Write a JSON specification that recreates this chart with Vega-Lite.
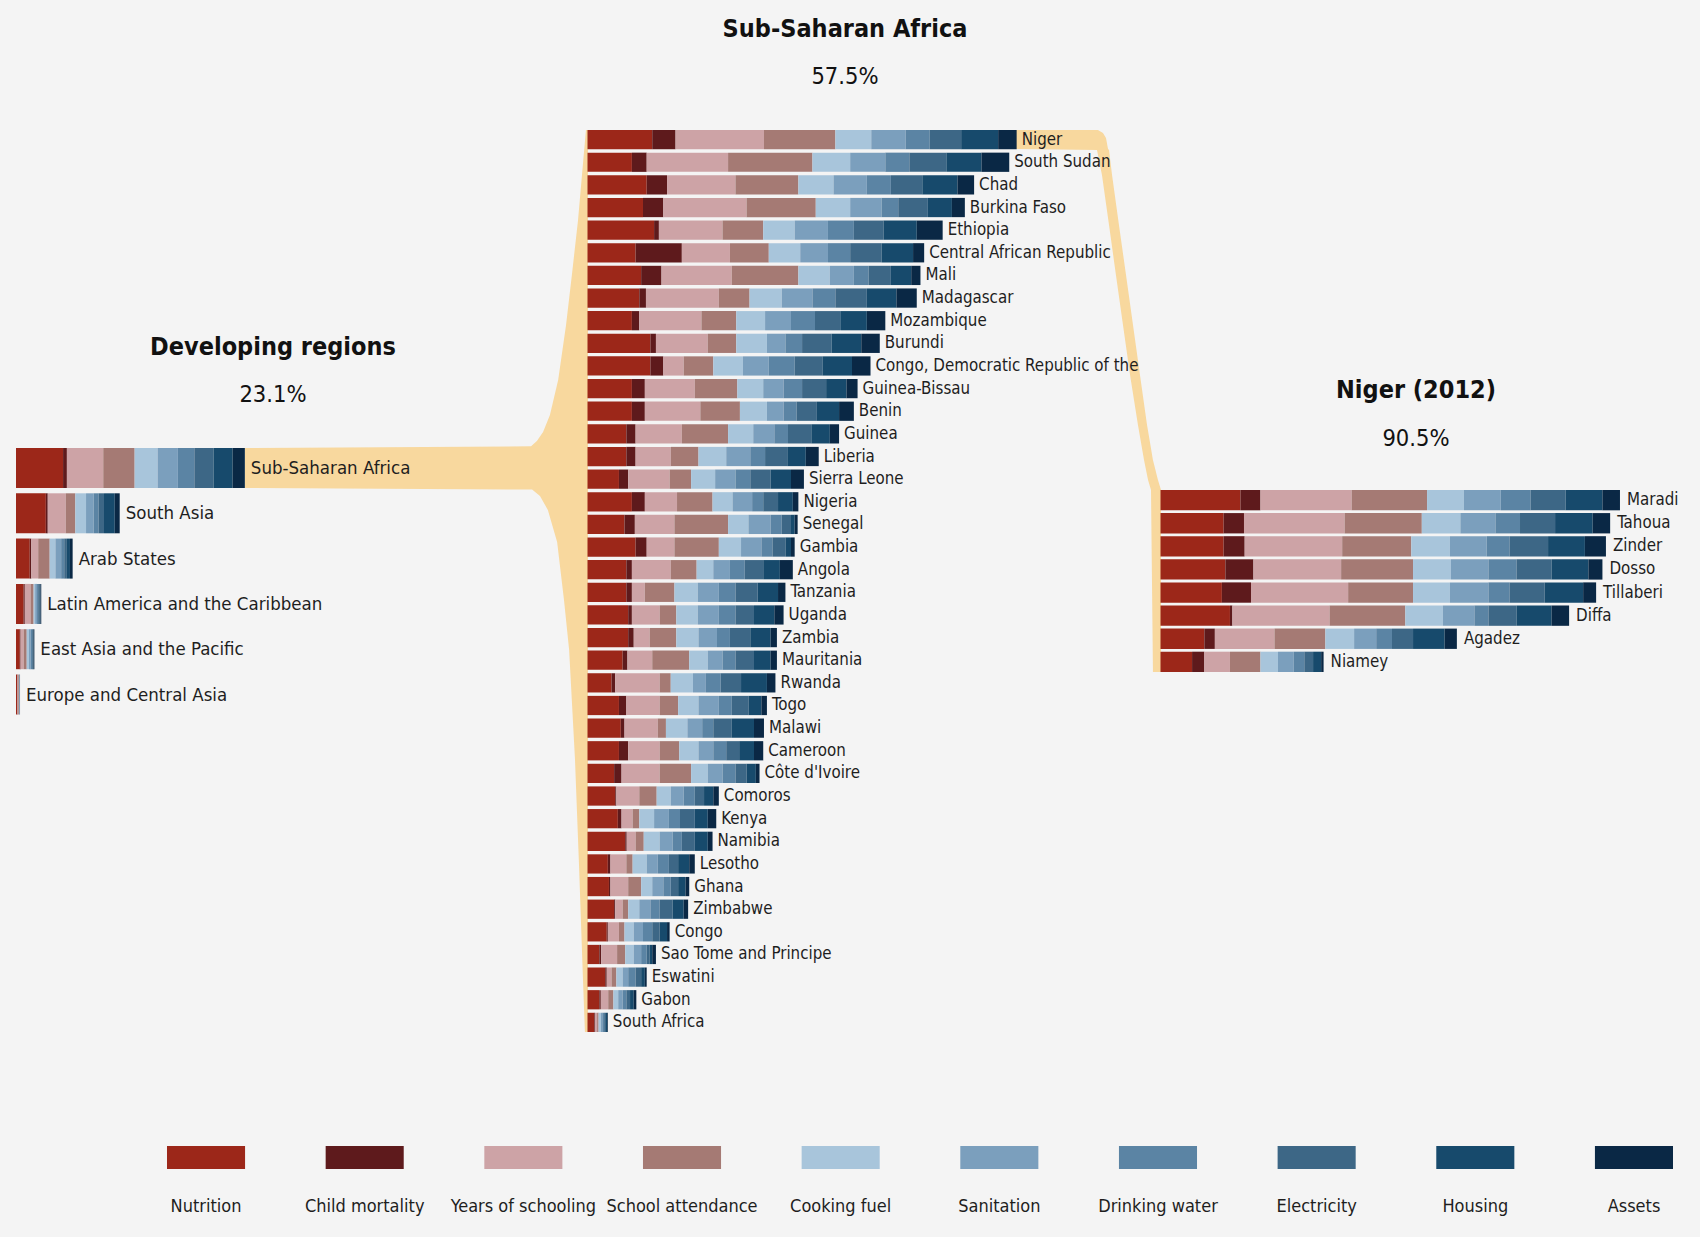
{
  "$schema": "https://vega.github.io/schema/vega-lite/v6.json",
  "width": 1700,
  "height": 1237,
  "padding": 0,
  "autosize": {"type": "none"},
  "background": "#f4f4f4",
  "config": {"view": {"stroke": null}, "font": "Liberation Sans Narrow, DejaVu Sans Condensed, sans-serif"},
  "datasets": {
    "mpi": [
      {"panel": "Developing regions", "area": "Sub-Saharan Africa", "Nutrition": 12.3, "Child mortality": 1.0, "Years of schooling": 9.5, "School attendance": 8.2, "Cooking fuel": 6.0, "Sanitation": 5.3, "Drinking water": 4.3, "Electricity": 5.0, "Housing": 5.0, "Assets": 3.2},
      {"panel": "Developing regions", "area": "South Asia", "Nutrition": 7.8, "Child mortality": 0.5, "Years of schooling": 4.7, "School attendance": 2.5, "Cooking fuel": 2.8, "Sanitation": 2.0, "Drinking water": 1.3, "Electricity": 1.4, "Housing": 2.8, "Assets": 1.3},
      {"panel": "Developing regions", "area": "Arab States", "Nutrition": 3.6, "Child mortality": 0.4, "Years of schooling": 1.8, "School attendance": 3.0, "Cooking fuel": 1.5, "Sanitation": 1.5, "Drinking water": 0.8, "Electricity": 0.7, "Housing": 0.8, "Assets": 0.7},
      {"panel": "Developing regions", "area": "Latin America and the Caribbean", "Nutrition": 2.0, "Child mortality": 0.3, "Years of schooling": 1.5, "School attendance": 0.8, "Cooking fuel": 0.4, "Sanitation": 0.5, "Drinking water": 0.3, "Electricity": 0.3, "Housing": 0.3, "Assets": 0.2},
      {"panel": "Developing regions", "area": "East Asia and the Pacific", "Nutrition": 1.0, "Child mortality": 0.2, "Years of schooling": 0.8, "School attendance": 0.8, "Cooking fuel": 0.6, "Sanitation": 0.4, "Drinking water": 0.4, "Electricity": 0.2, "Housing": 0.2, "Assets": 0.2},
      {"panel": "Developing regions", "area": "Europe and Central Asia", "Nutrition": 0.3, "Child mortality": 0.1, "Years of schooling": 0.2, "School attendance": 0.2, "Cooking fuel": 0.05, "Sanitation": 0.05, "Drinking water": 0.05, "Electricity": 0.05, "Housing": 0.03, "Assets": 0.02},

      {"panel": "Sub-Saharan Africa", "area": "Niger", "Nutrition": 17.5, "Child mortality": 6.3, "Years of schooling": 23.9, "School attendance": 19.3, "Cooking fuel": 9.7, "Sanitation": 9.3, "Drinking water": 6.5, "Electricity": 8.5, "Housing": 10.0, "Assets": 5.0},
      {"panel": "Sub-Saharan Africa", "area": "South Sudan", "Nutrition": 12.0, "Child mortality": 4.0, "Years of schooling": 22.0, "School attendance": 22.8, "Cooking fuel": 10.2, "Sanitation": 9.5, "Drinking water": 6.5, "Electricity": 10.0, "Housing": 9.5, "Assets": 7.5},
      {"panel": "Sub-Saharan Africa", "area": "Chad", "Nutrition": 16.0, "Child mortality": 5.5, "Years of schooling": 18.5, "School attendance": 17.0, "Cooking fuel": 9.5, "Sanitation": 9.0, "Drinking water": 6.5, "Electricity": 8.5, "Housing": 9.5, "Assets": 4.5},
      {"panel": "Sub-Saharan Africa", "area": "Burkina Faso", "Nutrition": 15.0, "Child mortality": 5.5, "Years of schooling": 22.5, "School attendance": 18.7, "Cooking fuel": 9.3, "Sanitation": 8.5, "Drinking water": 4.5, "Electricity": 8.0, "Housing": 6.5, "Assets": 3.5},
      {"panel": "Sub-Saharan Africa", "area": "Ethiopia", "Nutrition": 18.0, "Child mortality": 1.3, "Years of schooling": 17.2, "School attendance": 11.0, "Cooking fuel": 8.5, "Sanitation": 9.0, "Drinking water": 7.0, "Electricity": 8.0, "Housing": 9.0, "Assets": 7.0},
      {"panel": "Sub-Saharan Africa", "area": "Central African Republic", "Nutrition": 13.0, "Child mortality": 12.5, "Years of schooling": 13.0, "School attendance": 10.5, "Cooking fuel": 8.5, "Sanitation": 7.5, "Drinking water": 6.0, "Electricity": 8.5, "Housing": 8.5, "Assets": 3.0},
      {"panel": "Sub-Saharan Africa", "area": "Mali", "Nutrition": 14.5, "Child mortality": 5.5, "Years of schooling": 19.0, "School attendance": 18.0, "Cooking fuel": 8.5, "Sanitation": 6.5, "Drinking water": 4.0, "Electricity": 6.0, "Housing": 5.5, "Assets": 2.5},
      {"panel": "Sub-Saharan Africa", "area": "Madagascar", "Nutrition": 14.0, "Child mortality": 1.8, "Years of schooling": 19.7, "School attendance": 8.3, "Cooking fuel": 8.7, "Sanitation": 8.3, "Drinking water": 6.2, "Electricity": 8.5, "Housing": 8.0, "Assets": 5.5},
      {"panel": "Sub-Saharan Africa", "area": "Mozambique", "Nutrition": 12.0, "Child mortality": 2.0, "Years of schooling": 16.8, "School attendance": 9.4, "Cooking fuel": 7.8, "Sanitation": 7.0, "Drinking water": 6.5, "Electricity": 7.0, "Housing": 7.0, "Assets": 5.0},
      {"panel": "Sub-Saharan Africa", "area": "Burundi", "Nutrition": 17.0, "Child mortality": 1.5, "Years of schooling": 14.0, "School attendance": 7.7, "Cooking fuel": 8.3, "Sanitation": 5.0, "Drinking water": 4.5, "Electricity": 8.0, "Housing": 8.0, "Assets": 5.0},
      {"panel": "Sub-Saharan Africa", "area": "Congo, Democratic Republic of the", "Nutrition": 17.0, "Child mortality": 3.5, "Years of schooling": 5.5, "School attendance": 8.0, "Cooking fuel": 8.0, "Sanitation": 7.0, "Drinking water": 7.0, "Electricity": 7.5, "Housing": 8.0, "Assets": 5.0},
      {"panel": "Sub-Saharan Africa", "area": "Guinea-Bissau", "Nutrition": 12.0, "Child mortality": 3.5, "Years of schooling": 13.5, "School attendance": 11.5, "Cooking fuel": 7.0, "Sanitation": 5.5, "Drinking water": 5.0, "Electricity": 6.5, "Housing": 5.5, "Assets": 3.0},
      {"panel": "Sub-Saharan Africa", "area": "Benin", "Nutrition": 12.0, "Child mortality": 3.5, "Years of schooling": 15.0, "School attendance": 10.7, "Cooking fuel": 7.3, "Sanitation": 4.5, "Drinking water": 3.5, "Electricity": 5.5, "Housing": 6.0, "Assets": 4.0},
      {"panel": "Sub-Saharan Africa", "area": "Guinea", "Nutrition": 10.5, "Child mortality": 2.5, "Years of schooling": 12.5, "School attendance": 12.5, "Cooking fuel": 6.8, "Sanitation": 5.7, "Drinking water": 3.7, "Electricity": 6.3, "Housing": 5.0, "Assets": 2.5},
      {"panel": "Sub-Saharan Africa", "area": "Liberia", "Nutrition": 10.5, "Child mortality": 2.5, "Years of schooling": 9.5, "School attendance": 7.5, "Cooking fuel": 7.5, "Sanitation": 6.5, "Drinking water": 4.0, "Electricity": 6.0, "Housing": 5.0, "Assets": 3.5},
      {"panel": "Sub-Saharan Africa", "area": "Sierra Leone", "Nutrition": 8.5, "Child mortality": 2.5, "Years of schooling": 11.2, "School attendance": 5.8, "Cooking fuel": 6.5, "Sanitation": 5.5, "Drinking water": 4.0, "Electricity": 5.5, "Housing": 5.5, "Assets": 3.5},
      {"panel": "Sub-Saharan Africa", "area": "Nigeria", "Nutrition": 12.0, "Child mortality": 3.5, "Years of schooling": 8.7, "School attendance": 9.6, "Cooking fuel": 5.4, "Sanitation": 5.3, "Drinking water": 3.0, "Electricity": 4.0, "Housing": 4.0, "Assets": 1.5},
      {"panel": "Sub-Saharan Africa", "area": "Senegal", "Nutrition": 10.0, "Child mortality": 2.8, "Years of schooling": 10.7, "School attendance": 14.5, "Cooking fuel": 5.5, "Sanitation": 6.0, "Drinking water": 3.0, "Electricity": 2.5, "Housing": 1.0, "Assets": 0.8},
      {"panel": "Sub-Saharan Africa", "area": "Gambia", "Nutrition": 13.0, "Child mortality": 3.0, "Years of schooling": 7.5, "School attendance": 12.0, "Cooking fuel": 6.0, "Sanitation": 5.5, "Drinking water": 3.0, "Electricity": 3.5, "Housing": 1.5, "Assets": 1.0},
      {"panel": "Sub-Saharan Africa", "area": "Angola", "Nutrition": 10.5, "Child mortality": 1.5, "Years of schooling": 10.5, "School attendance": 7.0, "Cooking fuel": 4.5, "Sanitation": 4.5, "Drinking water": 4.0, "Electricity": 5.0, "Housing": 4.5, "Assets": 3.5},
      {"panel": "Sub-Saharan Africa", "area": "Tanzania", "Nutrition": 10.5, "Child mortality": 1.5, "Years of schooling": 3.5, "School attendance": 8.0, "Cooking fuel": 6.3, "Sanitation": 5.7, "Drinking water": 4.5, "Electricity": 6.0, "Housing": 5.5, "Assets": 2.0},
      {"panel": "Sub-Saharan Africa", "area": "Uganda", "Nutrition": 11.0, "Child mortality": 1.0, "Years of schooling": 7.5, "School attendance": 4.5, "Cooking fuel": 5.8, "Sanitation": 5.7, "Drinking water": 4.5, "Electricity": 5.0, "Housing": 5.5, "Assets": 2.5},
      {"panel": "Sub-Saharan Africa", "area": "Zambia", "Nutrition": 11.0, "Child mortality": 1.5, "Years of schooling": 4.3, "School attendance": 7.2, "Cooking fuel": 6.0, "Sanitation": 5.0, "Drinking water": 3.5, "Electricity": 5.5, "Housing": 5.5, "Assets": 1.7},
      {"panel": "Sub-Saharan Africa", "area": "Mauritania", "Nutrition": 9.5, "Child mortality": 1.3, "Years of schooling": 6.7, "School attendance": 10.0, "Cooking fuel": 5.0, "Sanitation": 4.0, "Drinking water": 3.5, "Electricity": 5.0, "Housing": 4.5, "Assets": 1.7},
      {"panel": "Sub-Saharan Africa", "area": "Rwanda", "Nutrition": 6.5, "Child mortality": 1.0, "Years of schooling": 12.0, "School attendance": 3.0, "Cooking fuel": 6.0, "Sanitation": 3.5, "Drinking water": 4.0, "Electricity": 5.5, "Housing": 7.0, "Assets": 2.3},
      {"panel": "Sub-Saharan Africa", "area": "Togo", "Nutrition": 8.5, "Child mortality": 2.0, "Years of schooling": 9.0, "School attendance": 5.0, "Cooking fuel": 5.5, "Sanitation": 5.5, "Drinking water": 3.5, "Electricity": 4.5, "Housing": 3.5, "Assets": 1.5},
      {"panel": "Sub-Saharan Africa", "area": "Malawi", "Nutrition": 9.0, "Child mortality": 1.0, "Years of schooling": 9.0, "School attendance": 2.2, "Cooking fuel": 5.8, "Sanitation": 4.0, "Drinking water": 3.0, "Electricity": 5.0, "Housing": 6.0, "Assets": 2.7},
      {"panel": "Sub-Saharan Africa", "area": "Cameroon", "Nutrition": 8.5, "Child mortality": 2.5, "Years of schooling": 8.5, "School attendance": 5.3, "Cooking fuel": 5.2, "Sanitation": 4.0, "Drinking water": 3.5, "Electricity": 3.5, "Housing": 4.0, "Assets": 2.5},
      {"panel": "Sub-Saharan Africa", "area": "Côte d'Ivoire", "Nutrition": 7.2, "Child mortality": 2.0, "Years of schooling": 10.3, "School attendance": 8.5, "Cooking fuel": 4.5, "Sanitation": 4.0, "Drinking water": 3.5, "Electricity": 3.0, "Housing": 2.5, "Assets": 1.0},
      {"panel": "Sub-Saharan Africa", "area": "Comoros", "Nutrition": 7.5, "Child mortality": 0.3, "Years of schooling": 6.2, "School attendance": 4.7, "Cooking fuel": 3.8, "Sanitation": 3.5, "Drinking water": 3.0, "Electricity": 2.5, "Housing": 2.5, "Assets": 1.5},
      {"panel": "Sub-Saharan Africa", "area": "Kenya", "Nutrition": 8.2, "Child mortality": 1.0, "Years of schooling": 3.0, "School attendance": 1.8, "Cooking fuel": 4.0, "Sanitation": 4.0, "Drinking water": 3.0, "Electricity": 4.0, "Housing": 3.5, "Assets": 2.3},
      {"panel": "Sub-Saharan Africa", "area": "Namibia", "Nutrition": 10.2, "Child mortality": 0.4, "Years of schooling": 2.4, "School attendance": 2.2, "Cooking fuel": 4.3, "Sanitation": 3.5, "Drinking water": 2.5, "Electricity": 3.5, "Housing": 3.5, "Assets": 1.3},
      {"panel": "Sub-Saharan Africa", "area": "Lesotho", "Nutrition": 5.5, "Child mortality": 0.7, "Years of schooling": 4.3, "School attendance": 1.7, "Cooking fuel": 3.8, "Sanitation": 3.0, "Drinking water": 3.0, "Electricity": 2.5, "Housing": 3.0, "Assets": 1.5},
      {"panel": "Sub-Saharan Africa", "area": "Ghana", "Nutrition": 5.8, "Child mortality": 0.4, "Years of schooling": 4.8, "School attendance": 3.5, "Cooking fuel": 3.0, "Sanitation": 3.0, "Drinking water": 2.0, "Electricity": 2.0, "Housing": 2.0, "Assets": 1.0},
      {"panel": "Sub-Saharan Africa", "area": "Zimbabwe", "Nutrition": 7.2, "Child mortality": 0.3, "Years of schooling": 2.0, "School attendance": 1.5, "Cooking fuel": 3.0, "Sanitation": 3.0, "Drinking water": 2.5, "Electricity": 3.5, "Housing": 3.0, "Assets": 1.2},
      {"panel": "Sub-Saharan Africa", "area": "Congo", "Nutrition": 5.2, "Child mortality": 0.3, "Years of schooling": 3.0, "School attendance": 1.5, "Cooking fuel": 2.5, "Sanitation": 2.5, "Drinking water": 2.5, "Electricity": 2.0, "Housing": 2.0, "Assets": 0.7},
      {"panel": "Sub-Saharan Africa", "area": "Sao Tome and Principe", "Nutrition": 3.2, "Child mortality": 0.5, "Years of schooling": 4.3, "School attendance": 2.2, "Cooking fuel": 2.3, "Sanitation": 2.0, "Drinking water": 1.5, "Electricity": 0.8, "Housing": 0.7, "Assets": 1.0},
      {"panel": "Sub-Saharan Africa", "area": "Eswatini", "Nutrition": 4.8, "Child mortality": 0.4, "Years of schooling": 1.3, "School attendance": 1.3, "Cooking fuel": 1.7, "Sanitation": 1.5, "Drinking water": 2.0, "Electricity": 1.5, "Housing": 1.0, "Assets": 0.5},
      {"panel": "Sub-Saharan Africa", "area": "Gabon", "Nutrition": 3.2, "Child mortality": 0.4, "Years of schooling": 2.0, "School attendance": 1.4, "Cooking fuel": 1.3, "Sanitation": 1.2, "Drinking water": 1.0, "Electricity": 1.0, "Housing": 1.0, "Assets": 0.7},
      {"panel": "Sub-Saharan Africa", "area": "South Africa", "Nutrition": 1.8, "Child mortality": 0.2, "Years of schooling": 0.6, "School attendance": 0.4, "Cooking fuel": 0.6, "Sanitation": 0.4, "Drinking water": 0.5, "Electricity": 0.5, "Housing": 0.3, "Assets": 0.2},

      {"panel": "Niger (2012)", "area": "Maradi", "Nutrition": 22.8, "Child mortality": 5.7, "Years of schooling": 26.0, "School attendance": 21.5, "Cooking fuel": 10.5, "Sanitation": 10.5, "Drinking water": 8.5, "Electricity": 10.0, "Housing": 10.5, "Assets": 5.0},
      {"panel": "Niger (2012)", "area": "Tahoua", "Nutrition": 18.0, "Child mortality": 5.8, "Years of schooling": 28.7, "School attendance": 22.0, "Cooking fuel": 11.0, "Sanitation": 10.0, "Drinking water": 7.0, "Electricity": 10.0, "Housing": 10.7, "Assets": 5.0},
      {"panel": "Niger (2012)", "area": "Zinder", "Nutrition": 18.0, "Child mortality": 6.0, "Years of schooling": 27.8, "School attendance": 19.7, "Cooking fuel": 11.0, "Sanitation": 10.5, "Drinking water": 6.5, "Electricity": 11.0, "Housing": 10.5, "Assets": 6.0},
      {"panel": "Niger (2012)", "area": "Dosso", "Nutrition": 18.5, "Child mortality": 8.0, "Years of schooling": 25.0, "School attendance": 20.5, "Cooking fuel": 10.8, "Sanitation": 10.7, "Drinking water": 8.0, "Electricity": 10.0, "Housing": 10.5, "Assets": 4.0},
      {"panel": "Niger (2012)", "area": "Tillaberi", "Nutrition": 17.5, "Child mortality": 8.3, "Years of schooling": 27.7, "School attendance": 18.5, "Cooking fuel": 10.5, "Sanitation": 11.0, "Drinking water": 6.0, "Electricity": 10.0, "Housing": 11.0, "Assets": 3.7},
      {"panel": "Niger (2012)", "area": "Diffa", "Nutrition": 19.8, "Child mortality": 0.7, "Years of schooling": 27.7, "School attendance": 21.6, "Cooking fuel": 10.7, "Sanitation": 9.0, "Drinking water": 4.0, "Electricity": 8.0, "Housing": 10.0, "Assets": 5.0},
      {"panel": "Niger (2012)", "area": "Agadez", "Nutrition": 12.5, "Child mortality": 3.0, "Years of schooling": 17.0, "School attendance": 14.5, "Cooking fuel": 8.2, "Sanitation": 6.3, "Drinking water": 4.5, "Electricity": 6.0, "Housing": 9.0, "Assets": 3.5},
      {"panel": "Niger (2012)", "area": "Niamey", "Nutrition": 9.0, "Child mortality": 3.5, "Years of schooling": 7.3, "School attendance": 8.7, "Cooking fuel": 5.0, "Sanitation": 4.5, "Drinking water": 3.0, "Electricity": 2.5, "Housing": 2.3, "Assets": 0.7}
    ],
    "panels": [
      {"panel": "Developing regions", "headcount": "23.1%"},
      {"panel": "Sub-Saharan Africa", "headcount": "57.5%"},
      {"panel": "Niger (2012)", "headcount": "90.5%"}
    ],
    "dims": [
      {"dimension": "Nutrition"}, {"dimension": "Child mortality"}, {"dimension": "Years of schooling"}, {"dimension": "School attendance"}, {"dimension": "Cooking fuel"},
      {"dimension": "Sanitation"}, {"dimension": "Drinking water"}, {"dimension": "Electricity"}, {"dimension": "Housing"}, {"dimension": "Assets"}
    ],
    "ribbonLeft": [
      {"v": 0.075, "u0": 0.994, "u1": 1}, {"v": 1.621, "u0": 0.985, "u1": 1}, {"v": 4.051, "u0": 0.971, "u1": 1}, {"v": 6.481, "u0": 0.953, "u1": 1},
      {"v": 8.69, "u0": 0.936, "u1": 1}, {"v": 11.12, "u0": 0.913, "u1": 1}, {"v": 12.666, "u0": 0.889, "u1": 1}, {"v": 13.417, "u0": 0.869, "u1": 1},
      {"v": 13.815, "u0": 0.851, "u1": 1}, {"v": 14.05, "u0": 0.834, "u1": 1}, {"v": 14.124, "u0": 0, "u1": 1}, {"v": 15.891, "u0": 0, "u1": 1},
      {"v": 15.96, "u0": 0.837, "u1": 1}, {"v": 16.245, "u0": 0.86, "u1": 1}, {"v": 16.863, "u0": 0.883, "u1": 1}, {"v": 18.277, "u0": 0.91, "u1": 1},
      {"v": 20.839, "u0": 0.93, "u1": 1}, {"v": 23.048, "u0": 0.945, "u1": 1}, {"v": 27.864, "u0": 0.962, "u1": 1}, {"v": 32.635, "u0": 0.974, "u1": 1},
      {"v": 37.451, "u0": 0.985, "u1": 1}, {"v": 39.925, "u0": 0.991, "u1": 1}
    ],
    "ribbonRight": [
      {"v": 0.075, "u0": 0, "u1": 0.569}, {"v": 0.208, "u0": 0, "u1": 0.604}, {"v": 0.429, "u0": 0, "u1": 0.625}, {"v": 0.92, "u0": 0, "u1": 0.639},
      {"v": 0.96, "u0": 0.5625, "u1": 0.646}, {"v": 2.063, "u0": 0.597, "u1": 0.667}, {"v": 4.272, "u0": 0.646, "u1": 0.715}, {"v": 6.481, "u0": 0.694, "u1": 0.764},
      {"v": 8.69, "u0": 0.743, "u1": 0.8125}, {"v": 10.899, "u0": 0.792, "u1": 0.861}, {"v": 13.108, "u0": 0.847, "u1": 0.91}, {"v": 14.654, "u0": 0.889, "u1": 0.951},
      {"v": 15.538, "u0": 0.917, "u1": 0.986}, {"v": 15.98, "u0": 0.9375, "u1": 1.007}, {"v": 24.021, "u0": 0.951, "u1": 1.007}
    ]
  },
  "layer": [
    {
      "data": {"name": "ribbonLeft"},
      "mark": {"type": "area", "orient": "horizontal", "color": "#f8d89e", "opacity": 1, "interpolate": "linear"},
      "encoding": {
        "y": {"field": "v", "type": "quantitative", "axis": null, "scale": {"domain": [0, 40], "range": [128.3, 1033.7], "nice": false, "zero": false}},
        "x": {"field": "u0", "type": "quantitative", "axis": null, "scale": {"domain": [0, 1], "range": [245, 588], "nice": false, "zero": false}},
        "x2": {"field": "u1"}
      }
    },
    {
      "data": {"name": "ribbonRight"},
      "mark": {"type": "area", "orient": "horizontal", "color": "#f8d89e", "opacity": 1, "interpolate": "linear"},
      "encoding": {
        "y": {"field": "v", "type": "quantitative", "axis": null, "scale": {"domain": [0, 40], "range": [128.3, 1033.7], "nice": false, "zero": false}},
        "x": {"field": "u0", "type": "quantitative", "axis": null, "scale": {"domain": [0, 1], "range": [1016, 1160], "nice": false, "zero": false}},
        "x2": {"field": "u1"}
      }
    },
    {
      "data": {"name": "mpi"},
      "transform": [
        {"filter": "datum.panel === 'Developing regions'"},
        {"fold": ["Nutrition", "Child mortality", "Years of schooling", "School attendance", "Cooking fuel", "Sanitation", "Drinking water", "Electricity", "Housing", "Assets"], "as": ["dimension", "share"]},
        {"calculate": "indexof(['Nutrition','Child mortality','Years of schooling','School attendance','Cooking fuel','Sanitation','Drinking water','Electricity','Housing','Assets'], datum.dimension)", "as": "k"}
      ],
      "encoding": {
        "y": {"field": "area", "type": "nominal", "axis": null, "scale": {"domain": ["Sub-Saharan Africa", "South Asia", "Arab States", "Latin America and the Caribbean", "East Asia and the Pacific", "Europe and Central Asia"], "range": [445.35, 717.15], "paddingInner": 0.117, "paddingOuter": 0.0585}}
      },
      "layer": [
        {
          "mark": {"type": "bar"},
          "encoding": {
            "x": {"field": "share", "type": "quantitative", "stack": "zero", "axis": null, "scale": {"domain": [0, 60], "range": [16, 245.62], "nice": false}},
            "color": {"field": "dimension", "type": "nominal", "legend": null, "scale": {"domain": ["Nutrition", "Child mortality", "Years of schooling", "School attendance", "Cooking fuel", "Sanitation", "Drinking water", "Electricity", "Housing", "Assets"], "range": ["#9c2719", "#5e1a1c", "#cda3a6", "#a57a74", "#a8c5db", "#7b9fbd", "#5b84a4", "#3d6786", "#174a6c", "#0a2845"]}},
            "order": {"field": "k", "type": "quantitative"}
          }
        },
        {
          "mark": {"type": "text", "align": "left", "baseline": "middle", "dx": 6, "fontSize": 18.5, "color": "#1e1e1e"},
          "encoding": {
            "x": {"aggregate": "sum", "field": "share", "type": "quantitative"},
            "text": {"field": "area", "type": "nominal"}
          }
        }
      ]
    },
    {
      "data": {"name": "mpi"},
      "transform": [
        {"filter": "datum.panel === 'Sub-Saharan Africa'"},
        {"fold": ["Nutrition", "Child mortality", "Years of schooling", "School attendance", "Cooking fuel", "Sanitation", "Drinking water", "Electricity", "Housing", "Assets"], "as": ["dimension", "share"]},
        {"calculate": "indexof(['Nutrition','Child mortality','Years of schooling','School attendance','Cooking fuel','Sanitation','Drinking water','Electricity','Housing','Assets'], datum.dimension)", "as": "k"}
      ],
      "encoding": {
        "y": {"field": "area", "type": "nominal", "axis": null, "scale": {"domain": ["Niger", "South Sudan", "Chad", "Burkina Faso", "Ethiopia", "Central African Republic", "Mali", "Madagascar", "Mozambique", "Burundi", "Congo, Democratic Republic of the", "Guinea-Bissau", "Benin", "Guinea", "Liberia", "Sierra Leone", "Nigeria", "Senegal", "Gambia", "Angola", "Tanzania", "Uganda", "Zambia", "Mauritania", "Rwanda", "Togo", "Malawi", "Cameroon", "Côte d'Ivoire", "Comoros", "Kenya", "Namibia", "Lesotho", "Ghana", "Zimbabwe", "Congo", "Sao Tome and Principe", "Eswatini", "Gabon", "South Africa"], "range": [128.3, 1033.7], "paddingInner": 0.15, "paddingOuter": 0.075}}
      },
      "layer": [
        {
          "mark": {"type": "bar"},
          "encoding": {
            "x": {"field": "share", "type": "quantitative", "stack": "zero", "axis": null, "scale": {"domain": [0, 120], "range": [587.5, 1031.45], "nice": false}},
            "color": {"field": "dimension", "type": "nominal", "legend": null, "scale": {"domain": ["Nutrition", "Child mortality", "Years of schooling", "School attendance", "Cooking fuel", "Sanitation", "Drinking water", "Electricity", "Housing", "Assets"], "range": ["#9c2719", "#5e1a1c", "#cda3a6", "#a57a74", "#a8c5db", "#7b9fbd", "#5b84a4", "#3d6786", "#174a6c", "#0a2845"]}},
            "order": {"field": "k", "type": "quantitative"}
          }
        },
        {
          "mark": {"type": "text", "align": "left", "baseline": "middle", "dx": 5, "fontSize": 16.8, "color": "#1e1e1e"},
          "encoding": {
            "x": {"aggregate": "sum", "field": "share", "type": "quantitative"},
            "text": {"field": "area", "type": "nominal"}
          }
        }
      ]
    },
    {
      "data": {"name": "mpi"},
      "transform": [
        {"filter": "datum.panel === 'Niger (2012)'"},
        {"fold": ["Nutrition", "Child mortality", "Years of schooling", "School attendance", "Cooking fuel", "Sanitation", "Drinking water", "Electricity", "Housing", "Assets"], "as": ["dimension", "share"]},
        {"calculate": "indexof(['Nutrition','Child mortality','Years of schooling','School attendance','Cooking fuel','Sanitation','Drinking water','Electricity','Housing','Assets'], datum.dimension)", "as": "k"}
      ],
      "encoding": {
        "y": {"field": "area", "type": "nominal", "axis": null, "scale": {"domain": ["Maradi", "Tahoua", "Zinder", "Dosso", "Tillaberi", "Diffa", "Agadez", "Niamey"], "range": [488.6, 673.4], "paddingInner": 0.12, "paddingOuter": 0.06}}
      },
      "layer": [
        {
          "mark": {"type": "bar"},
          "encoding": {
            "x": {"field": "share", "type": "quantitative", "stack": "zero", "axis": null, "scale": {"domain": [0, 135], "range": [1160.5, 1634.0], "nice": false}},
            "color": {"field": "dimension", "type": "nominal", "legend": null, "scale": {"domain": ["Nutrition", "Child mortality", "Years of schooling", "School attendance", "Cooking fuel", "Sanitation", "Drinking water", "Electricity", "Housing", "Assets"], "range": ["#9c2719", "#5e1a1c", "#cda3a6", "#a57a74", "#a8c5db", "#7b9fbd", "#5b84a4", "#3d6786", "#174a6c", "#0a2845"]}},
            "order": {"field": "k", "type": "quantitative"}
          }
        },
        {
          "mark": {"type": "text", "align": "left", "baseline": "middle", "dx": 7, "fontSize": 16.8, "color": "#1e1e1e"},
          "encoding": {
            "x": {"aggregate": "sum", "field": "share", "type": "quantitative"},
            "text": {"field": "area", "type": "nominal"}
          }
        }
      ]
    },
    {
      "data": {"name": "panels"},
      "transform": [{"filter": "datum.panel === 'Developing regions'"}],
      "layer": [
        {"mark": {"type": "text", "x": 273, "y": 355, "align": "center", "baseline": "alphabetic", "fontSize": 25, "fontWeight": "bold", "color": "#111"}, "encoding": {"text": {"field": "panel"}}},
        {"mark": {"type": "text", "x": 273, "y": 402, "align": "center", "baseline": "alphabetic", "fontSize": 23.5, "color": "#111"}, "encoding": {"text": {"field": "headcount"}}}
      ]
    },
    {
      "data": {"name": "panels"},
      "transform": [{"filter": "datum.panel === 'Sub-Saharan Africa'"}],
      "layer": [
        {"mark": {"type": "text", "x": 845, "y": 37, "align": "center", "baseline": "alphabetic", "fontSize": 25, "fontWeight": "bold", "color": "#111"}, "encoding": {"text": {"field": "panel"}}},
        {"mark": {"type": "text", "x": 845, "y": 84, "align": "center", "baseline": "alphabetic", "fontSize": 23.5, "color": "#111"}, "encoding": {"text": {"field": "headcount"}}}
      ]
    },
    {
      "data": {"name": "panels"},
      "transform": [{"filter": "datum.panel === 'Niger (2012)'"}],
      "layer": [
        {"mark": {"type": "text", "x": 1416, "y": 398, "align": "center", "baseline": "alphabetic", "fontSize": 25, "fontWeight": "bold", "color": "#111"}, "encoding": {"text": {"field": "panel"}}},
        {"mark": {"type": "text", "x": 1416, "y": 446, "align": "center", "baseline": "alphabetic", "fontSize": 23.5, "color": "#111"}, "encoding": {"text": {"field": "headcount"}}}
      ]
    },
    {
      "data": {"name": "dims"},
      "encoding": {
        "x": {"field": "dimension", "type": "nominal", "axis": null, "scale": {"type": "band", "domain": ["Nutrition", "Child mortality", "Years of schooling", "School attendance", "Cooking fuel", "Sanitation", "Drinking water", "Electricity", "Housing", "Assets"], "range": [126.7, 1713.3], "paddingInner": 0.508, "paddingOuter": 0.254}}
      },
      "layer": [
        {
          "mark": {"type": "rect", "y": 1146, "y2": 1169},
          "encoding": {
            "color": {"field": "dimension", "type": "nominal", "legend": null, "scale": {"domain": ["Nutrition", "Child mortality", "Years of schooling", "School attendance", "Cooking fuel", "Sanitation", "Drinking water", "Electricity", "Housing", "Assets"], "range": ["#9c2719", "#5e1a1c", "#cda3a6", "#a57a74", "#a8c5db", "#7b9fbd", "#5b84a4", "#3d6786", "#174a6c", "#0a2845"]}}
          }
        },
        {
          "mark": {"type": "text", "y": 1212, "align": "center", "baseline": "alphabetic", "fontSize": 18, "color": "#1e1e1e"},
          "encoding": {"text": {"field": "dimension"}}
        }
      ]
    }
  ],
  "resolve": {"scale": {"x": "independent", "y": "independent"}}
}
